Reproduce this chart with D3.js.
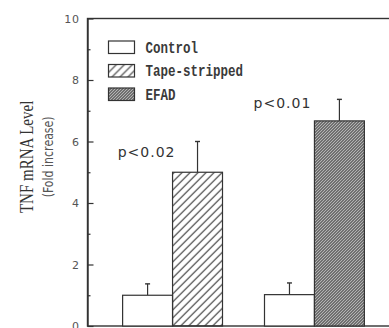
<!DOCTYPE html>
<html>
<head>
<meta charset="utf-8">
<script src="https://cdn.jsdelivr.net/npm/d3@7"></script>
<style>
  body { margin: 0; background: #fff; }
  svg { display: block; }
</style>
</head>
<body>
<div class="chartArea"></div>
<script>
// data
const groups = ['Tape-stripped', 'EFAD']
const seriesKeys = ['control', 'treated']
const controlValues = [1.0, 1.02]
const controlErrors = [0.37, 0.38]
const treatedValues = [5.0, 6.67]
const treatedErrors = [1.0, 0.7]
const pLabels = ['p<0.02', 'p<0.01']
const pLabelLevels = [5.5, 7.08]
const legendLabels = ['Control', 'Tape-stripped', 'EFAD']
const yTicks = [0, 2, 4, 6, 8, 10]
const yMinorTicks = [1, 3, 5, 7, 9]

let width = 389,
    height = 328

// small nudges for the p labels (px)
const pShift = [-1, -7]

const svg = d3.select('.chartArea')
    .append('svg')
    .attr('width', width)
    .attr('height', height)

const ink = '#333'

// hatch patterns
const defs = svg.append('defs')
defs.append('pattern')
    .attr('id', 'hatchTape')
    .attr('patternUnits', 'userSpaceOnUse')
    .attr('width', 8).attr('height', 8)
    .append('path')
    .attr('d', 'M0,8 L8,0 M-2,2 L2,-2 M6,10 L10,6')
    .attr('stroke', ink)
    .attr('stroke-width', 1.1)
defs.append('pattern')
    .attr('id', 'hatchEfad')
    .attr('patternUnits', 'userSpaceOnUse')
    .attr('width', 3).attr('height', 3)
    .call(p => p.append('rect').attr('width', 3).attr('height', 3).attr('fill', '#eee'))
    .append('path')
    .attr('d', 'M0,3 L3,0 M-1,1 L1,-1 M2,4 L4,2')
    .attr('stroke', '#222')
    .attr('stroke-width', 1.1)

const fills = ['#fff', 'url(#hatchTape)', 'url(#hatchEfad)']

const yScale = d3.scaleLinear()
    .domain([0, 10])
    .range([326, 18.5])

const xScale = d3.scaleBand()
    .domain(groups)
    .range([87, 400])
    .paddingInner(0.296)
    .paddingOuter(0.251)

const xSub = d3.scaleBand()
    .domain(seriesKeys)
    .range([0, xScale.bandwidth()])

// frame (top and bottom lines run past the right edge)
svg.append('rect')
    .attr('x', 87.5).attr('y', yScale(10))
    .attr('width', 320).attr('height', yScale(0) - yScale(10))
    .attr('fill', 'none')
    .attr('stroke', ink)
    .attr('stroke-width', 1.4)

// y axis, ticks pointing inward
const yAxis = d3.axisLeft(yScale)
    .tickValues(yTicks)
    .tickSizeInner(-6)
    .tickSizeOuter(0)
    .tickPadding(8)
    .tickFormat(d3.format('d'))

const yAxisG = svg.append('g')
    .attr('transform', 'translate(87.5, 0)')
    .call(yAxis)
yAxisG.select('.domain').attr('stroke', ink).attr('stroke-width', 1.4)
yAxisG.selectAll('.tick line').attr('stroke', ink).attr('stroke-width', 1.2)
yAxisG.selectAll('.tick text')
    .attr('fill', '#555')
    .style('font-family', 'DejaVu Sans')
    .style('font-size', '11px')
    .style('letter-spacing', '0.6px')

const yMinor = d3.axisLeft(yScale)
    .tickValues(yMinorTicks)
    .tickSizeInner(-3)
    .tickSizeOuter(0)
    .tickFormat('')
const yMinorG = svg.append('g')
    .attr('transform', 'translate(87.5, 0)')
    .call(yMinor)
yMinorG.select('.domain').remove()
yMinorG.selectAll('.tick line').attr('stroke', ink).attr('stroke-width', 1.2)

// bars
const rows = groups.map((g, i) => ({
  group: g,
  bars: [
    {key: 'control', value: controlValues[i], err: controlErrors[i], fill: fills[0]},
    {key: 'treated', value: treatedValues[i], err: treatedErrors[i], fill: fills[i + 1]}
  ]
}))

const groupG = svg.selectAll('g.group')
    .data(rows)
    .enter()
    .append('g')
    .attr('class', 'group')
    .attr('transform', d => `translate(${xScale(d.group)}, 0)`)

// error whiskers (upper only)
groupG.selectAll('g.err')
    .data(d => d.bars)
    .enter()
    .append('g')
    .attr('class', 'err')
    .each(function(d) {
      const cx = xSub(d.key) + xSub.bandwidth() / 2
      const g = d3.select(this)
      g.append('line')
          .attr('x1', cx).attr('x2', cx)
          .attr('y1', yScale(d.value)).attr('y2', yScale(d.value + d.err))
          .attr('stroke', ink).attr('stroke-width', 1.2)
      g.append('line')
          .attr('x1', cx - 2.5).attr('x2', cx + 2.5)
          .attr('y1', yScale(d.value + d.err)).attr('y2', yScale(d.value + d.err))
          .attr('stroke', ink).attr('stroke-width', 1.4)
    })

groupG.selectAll('rect')
    .data(d => d.bars)
    .enter()
    .append('rect')
    .attr('x', d => xSub(d.key))
    .attr('y', d => yScale(d.value))
    .attr('width', xSub.bandwidth())
    .attr('height', d => yScale(0) - yScale(d.value))
    .attr('fill', d => d.fill)
    .attr('stroke', ink)
    .attr('stroke-width', 1.2)

// p-value labels above the control bars
groupG.append('text')
    .attr('x', (d, i) => xSub('control') + xSub.bandwidth() / 2 + pShift[i])
    .attr('y', (d, i) => yScale(pLabelLevels[i]))
    .attr('text-anchor', 'middle')
    .attr('fill', ink)
    .style('font-family', 'DejaVu Sans')
    .style('font-size', '14px')
    .style('letter-spacing', '1px')
    .text((d, i) => pLabels[i])

// legend
const legend = svg.selectAll('g.legend')
    .data(legendLabels)
    .enter()
    .append('g')
    .attr('class', 'legend')
    .attr('transform', (d, i) => `translate(108.5, ${41 + i * 23.5})`)
legend.append('rect')
    .attr('width', 26).attr('height', 12.5)
    .attr('fill', (d, i) => fills[i])
    .attr('stroke', ink)
    .attr('stroke-width', 1.2)
legend.append('text')
    .attr('transform', 'translate(37, 11.5) scale(1, 1.3)')
    .attr('fill', '#3a3a3a')
    .style('font-family', 'Liberation Mono')
    .style('font-size', '12.5px')
    .style('font-weight', 'bold')
    .text(d => d)

// y title
svg.append('text')
    .attr('transform', `translate(33, ${yScale(5.5)}) rotate(-90) scale(1, 1.3)`)
    .attr('text-anchor', 'middle')
    .attr('fill', '#333')
    .style('font-family', 'Liberation Serif')
    .style('font-size', '15px')
    .text('TNF mRNA Level')
svg.append('text')
    .attr('transform', `translate(53, ${yScale(5.5)}) rotate(-90) scale(1, 1.2)`)
    .attr('text-anchor', 'middle')
    .attr('fill', '#555')
    .style('font-family', 'DejaVu Sans')
    .style('font-size', '11px')
    .text('(Fold increase)')
</script>
</body>
</html>
